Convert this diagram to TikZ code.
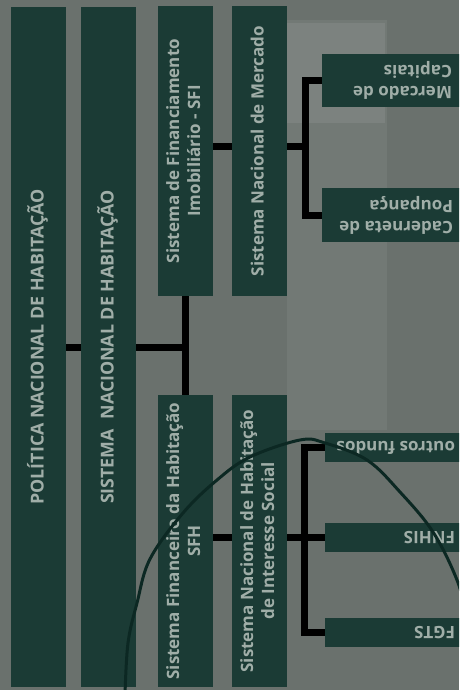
\documentclass[tikz,border=0pt]{standalone}
\usepackage{fontspec}
\usepackage{graphicx}
\setmainfont{Open Sans}
\definecolor{slidegray}{RGB}{106,113,109}
\definecolor{panelgray}{RGB}{114,121,117}
\definecolor{boxgreen}{RGB}{27,59,53}
\definecolor{boxtext}{RGB}{160,174,168}
\definecolor{penline}{RGB}{12,40,35}
\tikzset{
	box/.style={fill=boxgreen, inner sep=0pt, text=boxtext,
		font=\bfseries\fontsize{17}{21}\selectfont},
	colbox/.style={box, minimum width=55pt},
	capbox/.style={colbox, minimum height=680pt, font=\bfseries\fontsize{17.8}{21}\selectfont},
	rbox/.style={box, minimum width=148pt},
	rlabel/.style={inner sep=0pt, text=boxtext, rotate=180,
		font=\bfseries\fontsize{17}{21}\selectfont, align=left, anchor=west},
	link/.style={line width=7pt, black, line join=miter},
}
\newcommand{\uptext}[1]{\rotatebox{90}{\begin{tabular}{@{}c@{}}#1\end{tabular}}}
\begin{document}
\begin{tikzpicture}[x=1pt, y=-1pt]
	%background
	\useasboundingbox (0,0) rectangle (459,690);
	\clip (0,0) rectangle (459,690);
	\fill[slidegray] (0,0) rectangle (459,690);
	\fill[panelgray] (287,20) rectangle (387,430);
	\fill[panelgray!93!white] (287,23) rectangle (385,123);
	%columns
	\node[capbox] (pnh) at (38.5,347) {\uptext{POLÍTICA NACIONAL DE HABITAÇÃO}};
	\node[capbox] (snh) at (108.5,347) {\uptext{SISTEMA\hspace{0.55em}NACIONAL DE HABITAÇÃO}};
	\node[colbox, minimum height=290pt] (sfi) at (185.5,151) {\uptext{Sistema de Financiamento\\Imobiliário - SFI}};
	\node[colbox, minimum height=290pt] (snm) at (259.5,151) {\uptext{Sistema Nacional de Mercado}};
	\node[colbox, minimum height=292pt] (sfh) at (185.5,541) {\uptext{Sistema Financeiro da Habitação\\SFH}};
	\node[colbox, minimum height=292pt] (snhis) at (259.5,541) {\uptext{Sistema Nacional de Habitação\\de Interesse Social}};
	%links
	\draw[link] (pnh.east) -- (snh.west);
	\draw[link] (snh.east) -- (sfi.south |- snh.east);
	\draw[link] (sfi.south) -- (sfh.north);
	\draw[link] ([yshift=5pt]sfi.east) -- ([yshift=5pt]snm.west);
	\draw[link] ([yshift=4pt]sfh.east) -- ([yshift=4pt]snhis.west);
	\draw[link] ([yshift=5pt]snm.east) -- ++(18.5,0) coordinate (jm);
	\draw[link] ([yshift=4pt]snhis.east) -- ++(17.5,0) coordinate (jh);
	%market side
	\node[rbox, minimum height=53pt] (mc) at (396,80.5) {};
	\node[rbox, minimum height=54pt] (cp) at (396,215) {};
	\node[rlabel] at ([xshift=-18pt]mc.east) {Mercado de\\Capitais};
	\node[rlabel] at ([xshift=-17pt]cp.east) {Caderneta de\\Poupança};
	\draw[link] (mc.west) -| (jm);
	\draw[link] (cp.west) -| (jm);
	%social side
	\foreach \n/\y/\t in {of/447.5/outros fundos, fnhis/537.5/FNHIS, fgts/632.5/FGTS}
	{
		\node[rbox, minimum width=145pt, minimum height=29pt] (\n) at (397.5,\y) {};
		\node[rlabel] at ([xshift=-15pt]\n.east) {\t};
		\draw[link] (\n.west) -| (jh);
	}
	%pen stroke
	\draw[penline, line width=3pt] plot[smooth, tension=0.6] coordinates{(125,695)
		(128,643)
		(137,603)
		(150,559)
		(183,513)
		(217,480)
		(250,457)
		(300,440)
		(325,443)
		(367,460)
		(400,492)
		(433,532)
		(457,580)
		(468,620)
	};
\end{tikzpicture}
\end{document}
